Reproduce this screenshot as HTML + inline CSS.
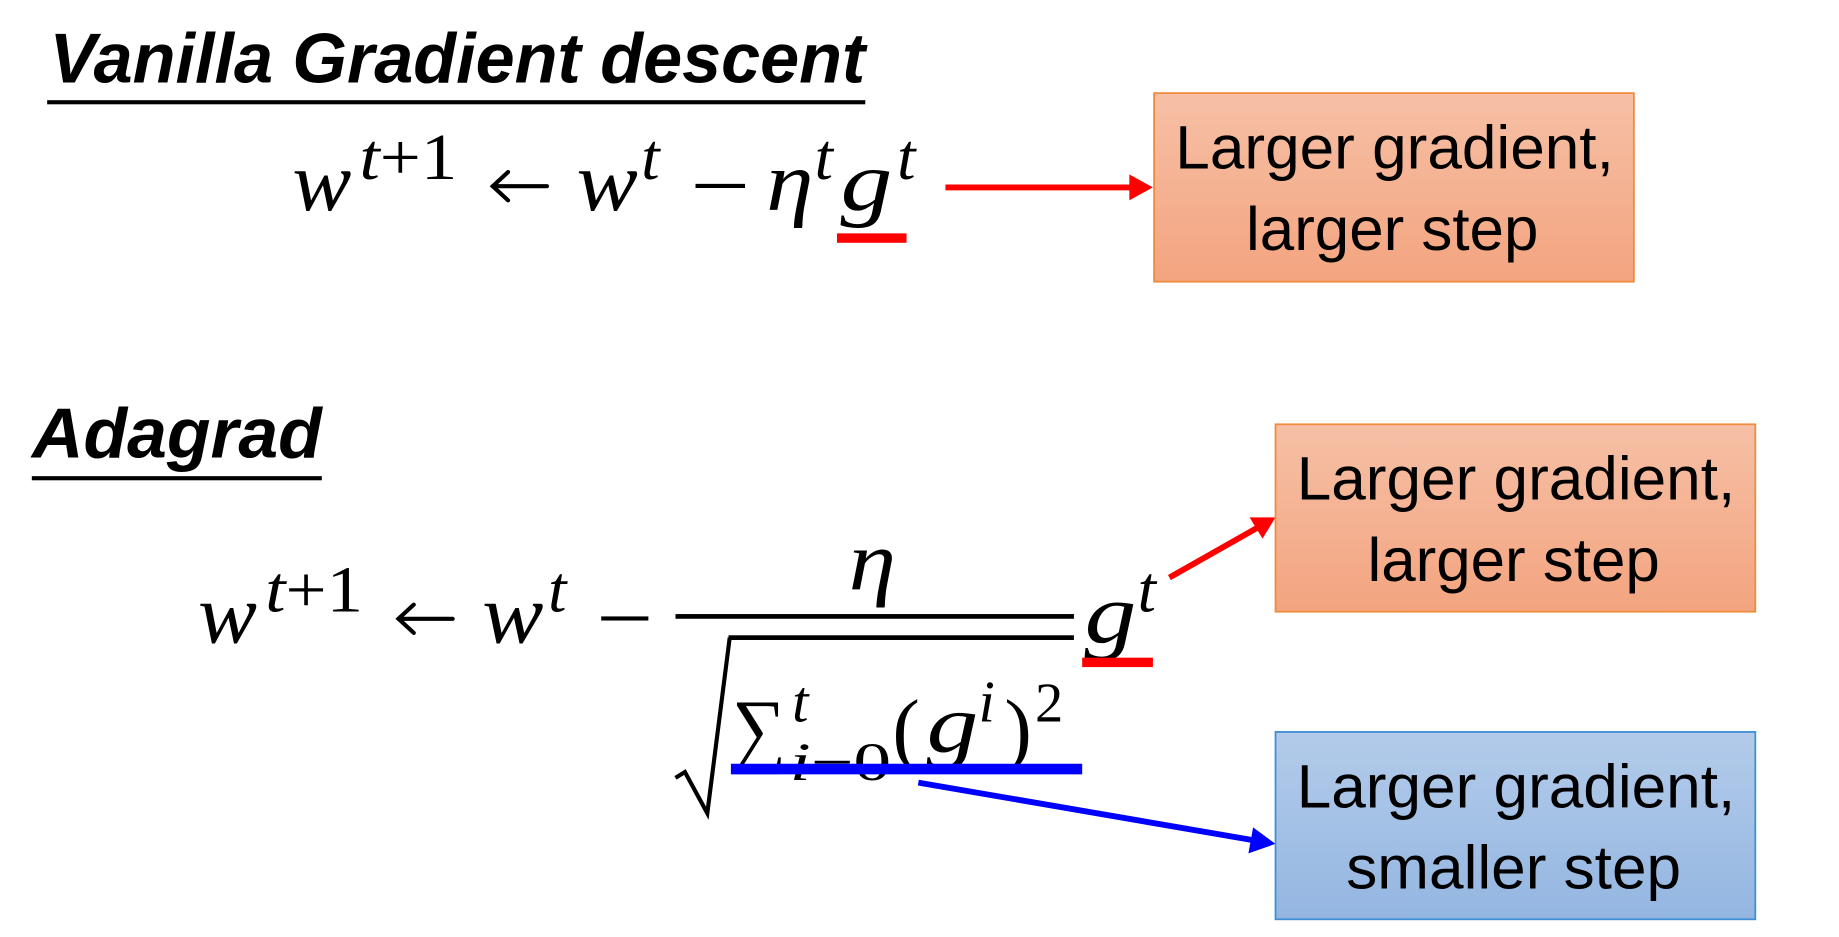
<!DOCTYPE html>
<html><head><meta charset="utf-8"><style>
html,body{margin:0;padding:0;background:#fff;width:1839px;height:937px;overflow:hidden}
svg{display:block}
.m{font-family:"Liberation Serif",serif;font-style:italic;fill:#000}
.u{font-family:"Liberation Serif",serif;fill:#000}
.b{font-family:"Liberation Sans",sans-serif;fill:#000}
</style></head><body>
<svg width="1839" height="937" viewBox="0 0 1560 795" preserveAspectRatio="none" xmlns="http://www.w3.org/2000/svg">
<defs>
<linearGradient id="og" x1="0" y1="0" x2="0" y2="1"><stop offset="0" stop-color="#f6c0a6"/><stop offset="1" stop-color="#f3a47f"/></linearGradient>
<linearGradient id="bg" x1="0" y1="0" x2="0" y2="1"><stop offset="0" stop-color="#b3cbea"/><stop offset="1" stop-color="#94b6e1"/></linearGradient>
</defs>
<!-- Titles -->
<text x="42" y="70" class="b" font-size="60" font-weight="bold" font-style="italic" textLength="692" lengthAdjust="spacingAndGlyphs">Vanilla Gradient descent</text>
<rect x="40" y="85" width="694" height="3.5" fill="#000"/>
<text x="27" y="388" class="b" font-size="60" font-weight="bold" font-style="italic" textLength="246" lengthAdjust="spacingAndGlyphs">Adagrad</text>
<rect x="27" y="404" width="246" height="3.5" fill="#000"/>

<!-- Eq 1 -->
<text x="248" y="178" class="m" font-size="72" textLength="50" lengthAdjust="spacingAndGlyphs">w</text>
<text x="305" y="152" class="m" font-size="56" textLength="83" lengthAdjust="spacingAndGlyphs">t<tspan class="u" font-style="normal">+1</tspan></text>
<g stroke="#000" stroke-width="3.5" fill="none" stroke-linecap="round"><line x1="418" y1="158" x2="464" y2="158"/><polyline points="431,146 418,158 431,170"/></g>
<text x="489" y="178" class="m" font-size="72" textLength="52" lengthAdjust="spacingAndGlyphs">w</text>
<text x="544" y="152" class="m" font-size="56">t</text>
<rect x="590" y="156" width="42" height="3.5" fill="#000"/>
<text x="650" y="178" class="m" font-size="72" textLength="40" lengthAdjust="spacingAndGlyphs">η</text>
<text x="691" y="152" class="m" font-size="56">t</text>
<text x="713" y="178" class="m" font-size="72" textLength="44" lengthAdjust="spacingAndGlyphs">g</text>
<text x="761" y="152" class="m" font-size="56">t</text>
<rect x="710" y="198" width="59" height="8" fill="#ff0000"/>
<line x1="802" y1="159" x2="962" y2="159" stroke="#ff0000" stroke-width="5"/>
<polygon points="978,159 958,148 958,170" fill="#ff0000"/>

<!-- Box 1 -->
<rect x="979" y="79" width="407" height="160" fill="url(#og)" stroke="#f08a3c" stroke-width="1.5"/>
<text x="1183" y="143" class="b" font-size="52" text-anchor="middle" textLength="372" lengthAdjust="spacingAndGlyphs">Larger gradient,</text>
<text x="1181" y="212" class="b" font-size="52" text-anchor="middle" textLength="248" lengthAdjust="spacingAndGlyphs">larger step</text>

<!-- Eq 2 -->
<text x="168" y="545" class="m" font-size="72" textLength="50" lengthAdjust="spacingAndGlyphs">w</text>
<text x="225" y="519" class="m" font-size="56" textLength="83" lengthAdjust="spacingAndGlyphs">t<tspan class="u" font-style="normal">+1</tspan></text>
<g stroke="#000" stroke-width="3.5" fill="none" stroke-linecap="round"><line x1="338" y1="525" x2="384" y2="525"/><polyline points="351,513 338,525 351,537"/></g>
<text x="409" y="545" class="m" font-size="72" textLength="52" lengthAdjust="spacingAndGlyphs">w</text>
<text x="465" y="519" class="m" font-size="56">t</text>
<rect x="510" y="523" width="40" height="3.5" fill="#000"/>
<rect x="573" y="521" width="338" height="4" fill="#000"/>
<text x="720" y="500" class="m" font-size="72" textLength="40" lengthAdjust="spacingAndGlyphs">η</text>
<rect x="618" y="539" width="293" height="4" fill="#000"/>
<polyline points="573,660 581,655 600,690 619,541" fill="none" stroke="#000" stroke-width="3.5"/>
<text x="621" y="642" class="u" font-size="70" textLength="46" lengthAdjust="spacingAndGlyphs">∑</text>
<text x="672" y="612" class="m" font-size="50">t</text>
<text x="670" y="662" class="m" font-size="46" textLength="86" lengthAdjust="spacingAndGlyphs">i<tspan class="u" font-style="normal">−0</tspan></text>
<text x="757" y="642" class="u" font-size="70">(</text>
<text x="786" y="638" class="m" font-size="70" textLength="44" lengthAdjust="spacingAndGlyphs">g</text>
<text x="830" y="612" class="m" font-size="50">i</text>
<text x="852" y="642" class="u" font-size="70">)</text>
<text x="878" y="612" class="u" font-size="48">2</text>
<rect x="620" y="648" width="298" height="9" fill="#0000ff"/>
<text x="920" y="545" class="m" font-size="72" textLength="44" lengthAdjust="spacingAndGlyphs">g</text>
<text x="965" y="519" class="m" font-size="56">t</text>
<rect x="918" y="558" width="60" height="8" fill="#ff0000"/>
<line x1="992" y1="490" x2="1068" y2="447" stroke="#ff0000" stroke-width="5"/>
<polygon points="1082,439 1060,439 1071,457" fill="#ff0000"/>
<line x1="779" y1="664" x2="1064" y2="713" stroke="#0000ff" stroke-width="5"/>
<polygon points="1082,716 1063,702 1059,724" fill="#0000ff"/>

<!-- Box 2 -->
<rect x="1082" y="360" width="407" height="159" fill="url(#og)" stroke="#f08a3c" stroke-width="1.5"/>
<text x="1286" y="424" class="b" font-size="52" text-anchor="middle" textLength="372" lengthAdjust="spacingAndGlyphs">Larger gradient,</text>
<text x="1284" y="493" class="b" font-size="52" text-anchor="middle" textLength="248" lengthAdjust="spacingAndGlyphs">larger step</text>

<!-- Box 3 -->
<rect x="1082" y="621" width="407" height="159" fill="url(#bg)" stroke="#3d8fd6" stroke-width="1.5"/>
<text x="1286" y="685" class="b" font-size="52" text-anchor="middle" textLength="372" lengthAdjust="spacingAndGlyphs">Larger gradient,</text>
<text x="1284" y="754" class="b" font-size="52" text-anchor="middle" textLength="284" lengthAdjust="spacingAndGlyphs">smaller step</text>
</svg>
</body></html>
